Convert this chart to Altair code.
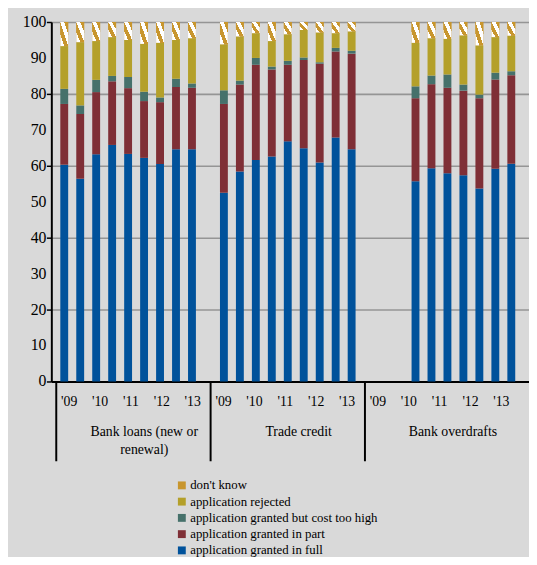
import altair as alt
import pandas as pd

# ---- data ----
groups = ["Bank loans (new or\nrenewal)", "Trade credit", "Bank overdrafts"]
years = ["'09", "'10", "'11", "'12", "'13"]
y_ticks = [0, 10, 20, 30, 40, 50, 60, 70, 80, 90, 100]
# half-year periods per group (index 0 = H1 2009 ... 8 = H1 2013)
periods_loans = [0, 1, 2, 3, 4, 5, 6, 7, 8]
periods_trade = [0, 1, 2, 3, 4, 5, 6, 7, 8]
periods_overdr = [2, 3, 4, 5, 6, 7, 8]

full_loans = [60.3, 56.4, 63.2, 65.8, 63.3, 62.2, 60.5, 64.6, 64.6]
part_loans = [16.9, 18.0, 17.3, 17.7, 18.3, 15.8, 17.2, 17.3, 17.1]
cost_loans = [4.2, 2.4, 3.4, 1.5, 3.1, 2.6, 1.3, 2.3, 1.2]
rej_loans = [11.9, 17.6, 10.8, 10.8, 10.3, 13.3, 15.2, 10.8, 12.6]
dk_loans = [6.7, 5.6, 5.3, 4.2, 5.0, 6.1, 5.8, 5.0, 4.5]

full_trade = [52.5, 58.4, 61.6, 62.6, 66.8, 64.9, 60.9, 67.9, 64.6]
part_trade = [24.7, 24.2, 26.5, 24.2, 21.3, 24.5, 27.5, 23.9, 26.6]
cost_trade = [3.8, 1.1, 1.9, 0.8, 1.1, 0.7, 0.4, 1.0, 0.8]
rej_trade = [12.8, 12.3, 6.9, 7.1, 7.4, 7.7, 8.3, 4.1, 5.4]
dk_trade = [6.2, 4.0, 3.1, 5.3, 3.4, 2.2, 2.9, 3.1, 2.6]

full_overdr = [55.7, 59.3, 57.9, 57.4, 53.7, 59.2, 60.6]
part_overdr = [23.1, 23.4, 23.8, 23.5, 25.1, 24.8, 24.6]
cost_overdr = [3.3, 2.4, 3.7, 1.7, 1.0, 1.9, 1.1]
rej_overdr = [12.1, 10.4, 9.9, 13.7, 13.7, 9.9, 9.9]
dk_overdr = [5.8, 4.5, 4.7, 3.7, 6.5, 4.2, 3.8]

series = ["application granted in full", "application granted in part",
          "application granted but cost too high", "application rejected",
          "don't know"]
colors = ["#00529b", "#7f2f36", "#46716b", "#b4a02a", "#c8962e"]

# ---- build table ----
SLOTS_PER_GROUP = 10
N_SLOTS = 29
rows = []
group_data = [
    (periods_loans, [full_loans, part_loans, cost_loans, rej_loans, dk_loans]),
    (periods_trade, [full_trade, part_trade, cost_trade, rej_trade, dk_trade]),
    (periods_overdr, [full_overdr, part_overdr, cost_overdr, rej_overdr, dk_overdr]),
]
for g, (periods, vals) in enumerate(group_data):
    for j, p in enumerate(periods):
        slot = g * SLOTS_PER_GROUP + p + 0.5
        for s, name in enumerate(series):
            rows.append({"slot": slot, "series": name, "order": s,
                         "value": vals[s][j]})
df = pd.DataFrame(rows)

# year labels and group labels
grp_w = N_SLOTS / 3
ylab = []
for g in range(3):
    for k, y in enumerate(years):
        ylab.append({"x": g * grp_w + (k + 0.42) * (N_SLOTS / 15), "label": y})
ylab_df = pd.DataFrame(ylab)
glab_df = pd.DataFrame({"x": [g * grp_w + grp_w / 2 for g in range(3)],
                        "label": groups})
sep_df = pd.DataFrame({"x": [g * grp_w for g in range(3)]})
ytick_df = pd.DataFrame({"v": y_ticks})

FONT = "Liberation Serif"
xscale = alt.Scale(domain=[0, 29.3], nice=False, zero=False)
yscale = alt.Scale(domain=[0, 100], nice=False)

base = alt.Chart(df).transform_stack(
    stack="value", groupby=["slot"], as_=["y0", "y1"],
    sort=[alt.SortField("order", order="ascending")]
)

bars = base.mark_bar(size=8).encode(
    x=alt.X("slot:Q", scale=xscale,
            axis=alt.Axis(labels=False, ticks=False, grid=False, title=None)),
    y=alt.Y("y0:Q", scale=yscale,
            axis=alt.Axis(values=y_ticks, title=None, labels=False)),
    y2="y1:Q",
    color=alt.Color("series:N",
                    scale=alt.Scale(domain=series[::-1], range=colors[::-1]),
                    legend=alt.Legend(title=None, orient="none",
                                      legendX=126, legendY=464,
                                      symbolType="square", symbolSize=64,
                                      symbolStrokeWidth=0,
                                      labelFont=FONT, labelFontSize=13,
                                      labelLimit=400,
                                      labelColor="black", labelOffset=2,
                                      rowPadding=2.5, padding=0)),
)

stops = []
gold = "#c8962e"
n = 2
for i in range(n):
    a = i / n
    m = a + 0.5 / n
    b = (i + 1) / n
    stops += [alt.GradientStop(color="white", offset=a),
              alt.GradientStop(color="white", offset=m),
              alt.GradientStop(color=gold, offset=m),
              alt.GradientStop(color=gold, offset=b)]

dk = base.transform_filter(alt.datum.series == "don't know").mark_bar(
    size=8,
    color=alt.LinearGradient(gradient="linear", stops=stops,
                             x1=0, y1=1, x2=1, y2=0)
).encode(
    x=alt.X("slot:Q", scale=xscale),
    y=alt.Y("y0:Q", scale=yscale), y2="y1:Q",
)

ylabels = alt.Chart(ytick_df).mark_text(font=FONT, fontSize=16, color="black",
                                        align="right", baseline="middle").encode(
    x=alt.value(-5), y=alt.Y("v:Q", scale=yscale), text="v:Q"
)

seps = alt.Chart(sep_df).mark_rule(color="black", strokeWidth=2).encode(
    x=alt.X("x:Q", scale=xscale), y=alt.value(365), y2=alt.value(446)
)

yrs = alt.Chart(ylab_df).mark_text(font=FONT, fontSize=14, color="black",
                                   baseline="middle", align="center").encode(
    x=alt.X("x:Q", scale=xscale), y=alt.value(386), text="label:N"
)

grp = alt.Chart(glab_df).mark_text(font=FONT, fontSize=14, color="black",
                                   baseline="middle", align="center",
                                   lineBreak="\n", lineHeight=19, dx=11).encode(
    x=alt.X("x:Q", scale=xscale), y=alt.value(416), text="label:N"
)

chart = alt.layer(bars, dk, ylabels, seps, yrs, grp).properties(
    width=485, height=365,
    autosize=alt.AutoSizeParams(type="none"),
    padding={"left": 44, "top": 10, "right": 0, "bottom": 174},
    background="#d9d9d9",
).configure_view(strokeWidth=0).configure_axisX(
    labels=False, ticks=False, grid=False, title=None,
    domainColor="black", domainWidth=2,
).configure_axisY(
    grid=True, gridColor="#959595", gridWidth=1.6,
    domainColor="black", domainWidth=2,
    tickColor="black", tickSize=5, tickWidth=1.5, labels=False,
)

chart.save("out.html", embed_options={"renderer": "svg", "actions": False})
